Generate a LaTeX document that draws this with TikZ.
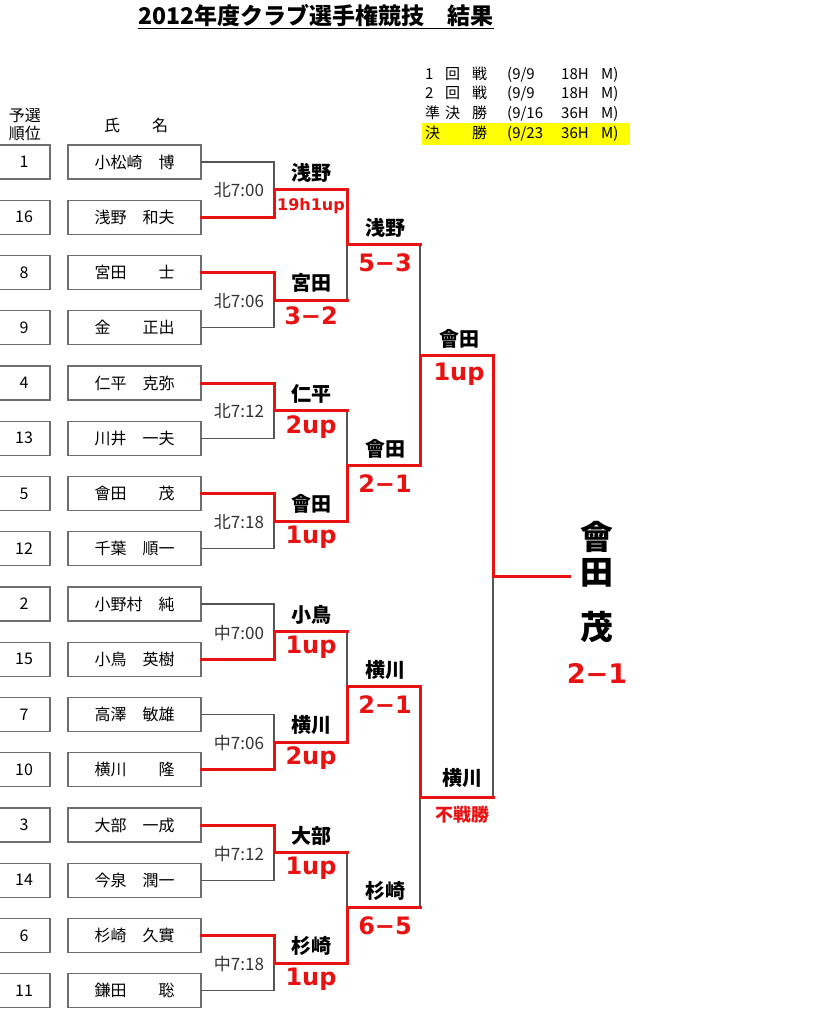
\documentclass[tikz,border=0pt]{standalone}
\usepackage{fontspec}
\setmainfont{Noto Sans CJK JP}
\newfontfamily\scorefont{DejaVu Sans}
\usetikzlibrary{positioning}
\definecolor{win_red}{RGB}{232,18,18}
\definecolor{line_gray}{RGB}{85,85,85}
\definecolor{box_gray}{RGB}{110,110,110}
\definecolor{legend_yellow}{RGB}{255,255,0}
\newcommand{\legendrow}[6]{\makebox[20pt][l]{#1}\makebox[27pt][l]{#2}\makebox[35pt][l]{#3}\makebox[54pt][l]{#4}\makebox[40pt][l]{#5}#6}

\begin{document}
\begin{tikzpicture}[x=1pt, y=-1pt,
    rankbox/.style={draw=box_gray, line width=1.2pt, minimum width=52pt, minimum height=34pt, inner sep=0pt, font=\fontsize{16}{16}\selectfont},
    namebox/.style={draw=box_gray, line width=1.2pt, minimum width=133pt, minimum height=34pt, inner sep=0pt, font=\fontsize{16}{16}\selectfont},
    header/.style={align=center, inner sep=0pt, font=\fontsize{16}{18}\selectfont},
    legend/.style={anchor=west, text width=202pt, align=left, minimum height=20pt, inner sep=3pt, font=\fontsize{15}{15}\selectfont},
    slot/.style={text=black!80, inner sep=0pt, font=\fontsize{17}{17}\selectfont},
    winner/.style={inner sep=0pt, font=\fontsize{20}{20}\selectfont\bfseries},
    score/.style={text=win_red, inner sep=0pt, font=\fontsize{24}{24}\scorefont\bfseries},
    loser line/.style={line_gray, line width=1.2pt, line cap=rect},
    winner line/.style={win_red, line width=3pt, line cap=rect}]
      \useasboundingbox (0,0) rectangle (818,1024);
      \node[inner sep=0pt, font=\fontsize{23}{23}\selectfont\bfseries] (title) at (316,17) {\underline{2012年度クラブ選手権競技　結果}};
      \node[legend] (round1) at (422,75) {\legendrow{1}{回}{戦}{(9/9}{18H}{M)}};
      \node[legend] (round2) at (422,94) {\legendrow{2}{回}{戦}{(9/9}{18H}{M)}};
      \node[legend] (semi) at (422,114) {\legendrow{準}{決}{勝}{(9/16}{36H}{M)}};
      \node[legend, fill=legend_yellow] (final) at (422,134) {\legendrow{決}{}{勝}{(9/23}{36H}{M)}};
      \node[header] (rankhead) at (25,125) {予選\\順位};
      \node[header] (namehead) at (136,125) {氏　　名};
      \foreach \r/\n [count=\i] in {1/小松崎　博, 16/浅野　和夫, 8/宮田　　士, 9/金　　正出, 4/仁平　克弥, 13/川井　一夫, 5/會田　　茂, 12/千葉　順一, 2/小野村　純, 15/小鳥　英樹, 7/高澤　敏雄, 10/横川　　隆, 3/大部　一成, 14/今泉　潤一, 6/杉崎　久實, 11/鎌田　　聡} {
        \node[rankbox] (k\i) at (24,{162+(\i-1)*55.25}) {\r};
        \node[namebox] (p\i) at (134.5,{162+(\i-1)*55.25}) {\n};
      }
      \foreach \j in {1,...,8} {
        \coordinate (a\j) at (274,{189.6+(\j-1)*110.5});
        \coordinate (b\j) at (347,{189.6+(\j-1)*110.5});
      }
      \foreach \j in {1,...,4} {
        \coordinate (c\j) at (347,{244.9+(\j-1)*221});
        \coordinate (d\j) at (420,{244.9+(\j-1)*221});
      }
      \foreach \j in {1,2} {
        \coordinate (e\j) at (420,{355.4+(\j-1)*442});
        \coordinate (f\j) at (493,{355.4+(\j-1)*442});
      }
      \coordinate (g) at (493,576.4);
      \coordinate (h) at (569,576.4);
      \draw[loser line] (p1.east) -| (a1);
      \draw[loser line] (p4.east) -| (a2);
      \draw[loser line] (p6.east) -| (a3);
      \draw[loser line] (p8.east) -| (a4);
      \draw[loser line] (p9.east) -| (a5);
      \draw[loser line] (p11.east) -| (a6);
      \draw[loser line] (p14.east) -| (a7);
      \draw[loser line] (p16.east) -| (a8);
      \draw[loser line] (b2) -- (c1);
      \draw[loser line] (b3) -- (c2);
      \draw[loser line] (b5) -- (c3);
      \draw[loser line] (b7) -- (c4);
      \draw[loser line] (d1) -- (e1);
      \draw[loser line] (d4) -- (e2);
      \draw[loser line] (f2) -- (g);
      \draw[winner line] (p2.east) -| (a1) -- (b1);
      \draw[winner line] (p3.east) -| (a2) -- (b2);
      \draw[winner line] (p5.east) -| (a3) -- (b3);
      \draw[winner line] (p7.east) -| (a4) -- (b4);
      \draw[winner line] (p10.east) -| (a5) -- (b5);
      \draw[winner line] (p12.east) -| (a6) -- (b6);
      \draw[winner line] (p13.east) -| (a7) -- (b7);
      \draw[winner line] (p15.east) -| (a8) -- (b8);
      \draw[winner line] (b1) -- (c1) -- (d1);
      \draw[winner line] (b4) -- (c2) -- (d2);
      \draw[winner line] (b6) -- (c3) -- (d3);
      \draw[winner line] (b8) -- (c4) -- (d4);
      \draw[winner line] (d2) -- (e1) -- (f1);
      \draw[winner line] (d3) -- (e2) -- (f2);
      \draw[winner line] (f1) -- (g) -- (h);
      \foreach \t [count=\j] in {北7:00, 北7:06, 北7:12, 北7:18, 中7:00, 中7:06, 中7:12, 中7:18}
        \node[slot] (t\j) at (239,{190.6+(\j-1)*110.5}) {\t};
      \foreach \w [count=\j] in {浅野, 宮田, 仁平, 會田, 小鳥, 横川, 大部, 杉崎}
        \node[winner] (w\j) at (311,{172.6+(\j-1)*110.5}) {\w};
      \node[score, font=\fontsize{16}{16}\scorefont\bfseries] (s1) at (311,205.6) {19h1up};
      \foreach \s [count=\j from 2] in {3−2, 2up, 1up, 1up, 2up, 1up, 1up}
        \node[score] (s\j) at (311,{205.6+(\j-1)*110.5}) {\s};
      \foreach \w [count=\j] in {浅野, 會田, 横川, 杉崎}
        \node[winner] (v\j) at (385,{227.9+(\j-1)*221}) {\w};
      \foreach \s [count=\j] in {5−3, 2−1, 2−1, 6−5}
        \node[score] (u\j) at (385,{262.9+(\j-1)*221}) {\s};
      \node[winner] (semi1) at (459,338.4) {會田};
      \node[score] (semiscore1) at (459,374) {1up};
      \node[winner] (semi2) at (462,778.4) {横川};
      \node[winner, text=win_red, font=\fontsize{18}{18}\selectfont\bfseries] (semiscore2) at (462,815) {不戦勝};
      \node[inner sep=0pt, align=center, font=\fontsize{33}{35}\selectfont\bfseries] (champ) at (597,582) {會\\田\\[20pt]茂};
      \node[score, font=\fontsize{27}{27}\scorefont\bfseries] (champscore) at (597,673) {2−1};
    \end{tikzpicture}
\end{document}
